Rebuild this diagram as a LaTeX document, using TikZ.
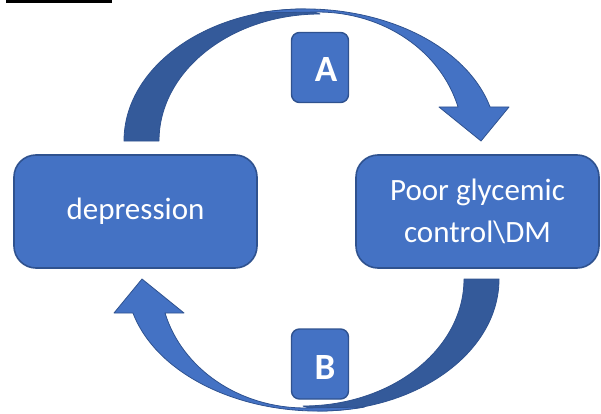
\documentclass[tikz,border=0pt]{standalone}
\usepackage{fontspec}
\setmainfont{Carlito}
\definecolor{officeblue}{HTML}{4472C4}
\definecolor{edgeblue}{HTML}{2F528F}
\definecolor{shadeblue}{HTML}{345A9A}
\tikzset{
  bigbox/.style={draw=edgeblue, fill=officeblue, line width=1.6pt, rounded corners=22pt,
    minimum width=243pt, minimum height=113pt, text=white, align=center,
    font=\fontsize{31}{42}\selectfont, inner sep=0pt},
  tagbox/.style={draw=edgeblue, fill=officeblue, line width=1.4pt, rounded corners=8pt,
    minimum width=57pt, minimum height=70pt, inner sep=0pt},
  tagtext/.style={text=white, font=\fontsize{37}{40}\bfseries\selectfont, inner sep=0pt, anchor=base},
  backband/.style={fill=shadeblue, draw=edgeblue, line width=0.8pt, line join=round},
  frontband/.style={fill=officeblue, draw=edgeblue, line width=0.8pt, line join=round}
}
\newcommand{\mycurvedarrow}{%
  \filldraw[backband] (124,272) arc[start angle=180, end angle=90, x radius=181pt, y radius=132pt]
    -- (320,399) arc[start angle=90, end angle=180, x radius=161pt, y radius=127pt] -- cycle;
  \filldraw[frontband] (258.7,400.1) arc[start angle=104, end angle=14.93, x radius=191.5pt, y radius=132pt]
    -- (509,306) -- (481,272) -- (439,306) -- (458,306)
    arc[start angle=15.3, end angle=90, x radius=145.1pt, y radius=129pt] -- cycle;
}
\begin{document}
\begin{tikzpicture}[x=1pt,y=1pt]
\useasboundingbox (0,0) rectangle (601,413);
\fill[black] (6,410) rectangle (112,413);
% curved arrows
\mycurvedarrow
\begin{scope}[rotate around={180:(311.5,203)}]
  \mycurvedarrow
\end{scope}
% main boxes
\node[bigbox] (dep) at (135.5,201.5) {\raisebox{-3pt}{depression}};
\node[bigbox] (poor) at (477.5,201.5) {Poor glycemic\\control\textbackslash DM};
% tag boxes
\node[tagbox] (boxA) at (320,345.5) {};
\node[tagtext] (labA) at (326,331) {A};
\node[tagbox] (boxB) at (320,49) {};
\node[tagtext] (labB) at (325,34) {B};
\end{tikzpicture}
\end{document}
